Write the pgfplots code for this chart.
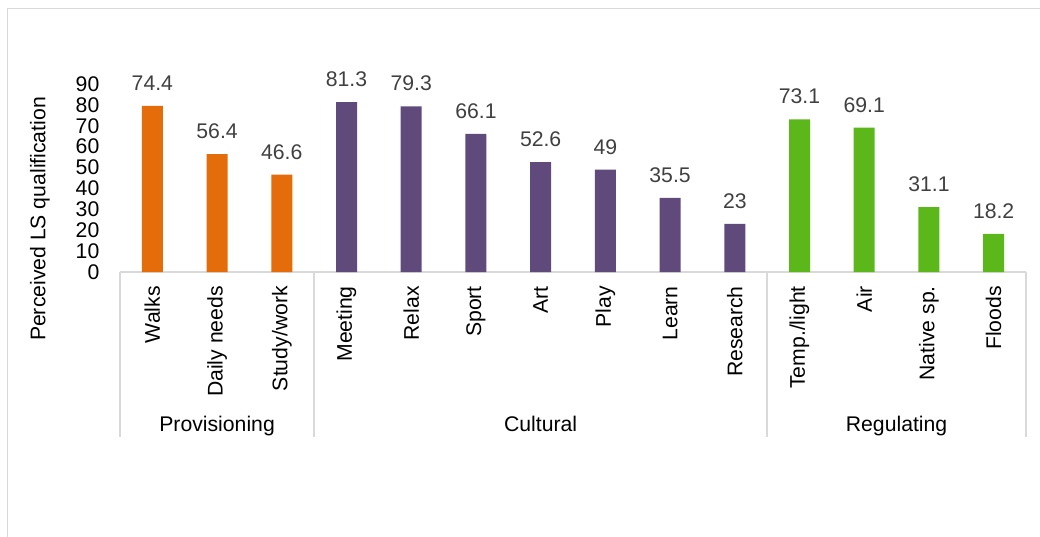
\documentclass[border=0pt]{standalone}
\usepackage{pgfplots}
\pgfplotsset{compat=1.18}
\usepackage{pgfplotstable}
\usepackage{fontspec}
\setmainfont{Liberation Sans}
\definecolor{cOrange}{HTML}{E46C0A}
\definecolor{cPurple}{HTML}{604A7B}
\definecolor{cGreen}{HTML}{5CB81A}
\definecolor{cGrid}{HTML}{D9D9D9}
\definecolor{cLab}{HTML}{404040}

\pgfplotstableread{
x y lab
0 79.5 74.4
1 56.4 56.4
2 46.6 46.6
}\prov
\pgfplotstableread{
x y lab
3 81.3 81.3
4 79.3 79.3
5 66.1 66.1
6 52.6 52.6
7 49.0 49
8 35.5 35.5
9 23.0 23
}\cult
\pgfplotstableread{
x y lab
10 73.1 73.1
11 69.1 69.1
12 31.1 31.1
13 18.2 18.2
}\regu

\newcommand{\fs}{\fontsize{21.2}{25}\selectfont}

\begin{document}
\begin{tikzpicture}[x=1pt,y=1pt]
\path[use as bounding box] (0,0) rectangle (1040,536);
\draw[cGrid, line width=1.5pt] (7.5,-10) -- (7.5,527.5) -- (1050,527.5);
\node[rotate=90, font=\fs] at (40,317) {Perceived LS qualification};
\begin{axis}[
 at={(120pt,264pt)}, anchor=south west,
 scale only axis, width=906pt, height=188pt,
 xmin=-0.5, xmax=13.5, ymin=0, ymax=90,
 ytick={0,10,...,90},
 xtick={0,...,13},
 xticklabels={Walks, Daily needs, Study/work, Meeting, Relax, Sport, Art, Play, Learn, Research, Temp./light, Air, Native sp., Floods},
 axis lines*=left,
 y axis line style={draw=none},
 x axis line style={draw=cGrid, line width=1.5pt},
 major tick length=0pt,
 tick style={draw=none},
 ticklabel style={font=\fs, inner sep=0pt},
 xticklabel style={rotate=90, anchor=east},
 xticklabel shift=14pt,
 yticklabel shift=20.5pt,
 /pgf/number format/assume math mode=true,
 clip=false,
 nodes near coords,
 point meta=explicit symbolic,
 every node near coord/.append style={font=\fs, text=cLab, anchor=south, inner sep=0pt, yshift=15pt},
]
\addplot[ybar, bar width=21pt, bar shift=0pt, fill=cOrange, draw=none] table[x=x, y=y, meta=lab] {\prov};
\addplot[ybar, bar width=21pt, bar shift=0pt, fill=cPurple, draw=none] table[x=x, y=y, meta=lab] {\cult};
\addplot[ybar, bar width=21pt, bar shift=0pt, fill=cGreen, draw=none] table[x=x, y=y, meta=lab] {\regu};
\draw[cGrid, line width=1.5pt] (axis cs:-0.5,0) -- ++(0pt,-165pt);
\draw[cGrid, line width=1.5pt] (axis cs:2.5,0) -- ++(0pt,-165pt);
\draw[cGrid, line width=1.5pt] (axis cs:9.5,0) -- ++(0pt,-165pt);
\draw[cGrid, line width=1.5pt] (axis cs:13.5,0) -- ++(0pt,-165pt);
\node[font=\fs, anchor=base] at ([yshift=-159pt]axis cs:1,0) {Provisioning};
\node[font=\fs, anchor=base] at ([yshift=-159pt]axis cs:6,0) {Cultural};
\node[font=\fs, anchor=base] at ([yshift=-159pt]axis cs:11.5,0) {Regulating};
\end{axis}
\end{tikzpicture}
\end{document}
